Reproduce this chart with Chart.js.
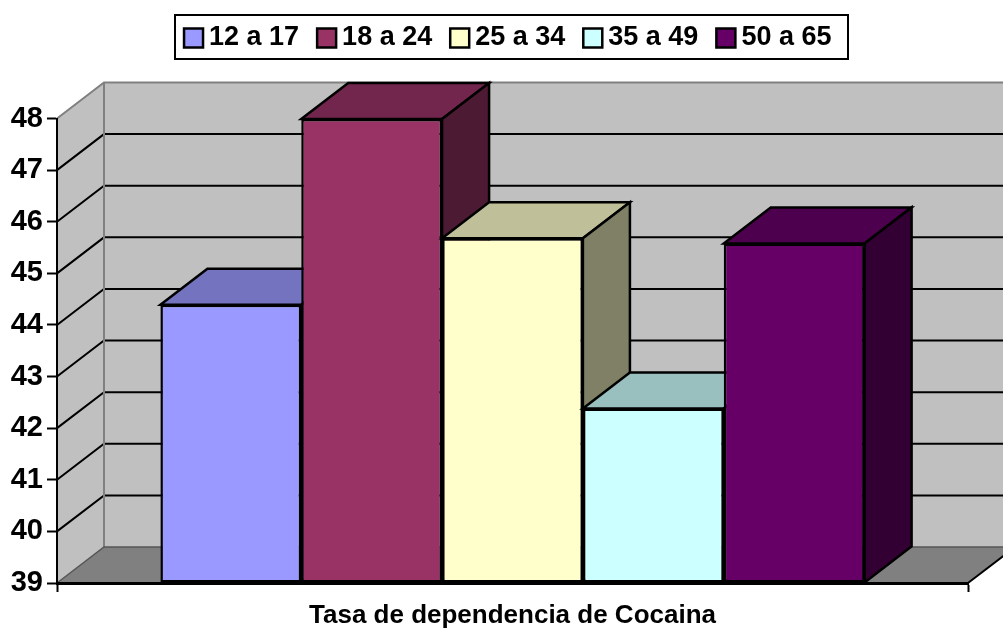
<!DOCTYPE html>
<html><head><meta charset="utf-8">
<style>html,body{margin:0;padding:0;background:#fff}canvas{display:block}</style>
<script src="https://cdn.jsdelivr.net/npm/chart.js@4/dist/chart.umd.js"></script>
</head><body><canvas id="c" width="1003" height="628"></canvas>
<script>
const categories = ['Tasa de dependencia de Cocaina'];
const seriesNames = ['12 a 17','18 a 24','25 a 34','35 a 49','50 a 65'];
const seriesValues = [44.39, 47.99, 45.68, 42.38, 45.58];
const seriesColors = ['#9999FF','#993366','#FFFFCC','#CCFFFF','#660066'];
const yMin = 39, yMax = 48;
const FONT = '"Liberation Sans", Arial, sans-serif';
const DX = 47, DY = 36;

function shade(hex, k){
  const n = parseInt(hex.slice(1),16);
  return 'rgb('+[(n>>16)&255,(n>>8)&255,n&255].map(v=>Math.round(v*k)).join(',')+')';
}
function poly(ctx, pts, fill, stroke, lw){
  ctx.beginPath();
  pts.forEach((p,i)=> i?ctx.lineTo(p[0],p[1]):ctx.moveTo(p[0],p[1]));
  ctx.closePath();
  if(fill){ctx.fillStyle=fill;ctx.fill();}
  if(stroke){ctx.strokeStyle=stroke;ctx.lineWidth=lw;ctx.lineJoin='miter';ctx.stroke();}
}
const walls = {
  id:'walls',
  afterLayout(chart){
    const lg = chart.legend, w = lg.right-lg.left, cx = 511.5;
    lg.left = cx-w/2; lg.right = cx+w/2;
    lg.top = -1; lg.bottom = lg.top+lg.height;
  },
  beforeDraw(chart){
    const {ctx, chartArea:a, scales:{y}} = chart;
    const L=a.left,R=a.right,T=y.getPixelForValue(yMax),B=y.getPixelForValue(yMin);
    ctx.save();
    poly(ctx,[[L+DX,T-DY],[R+DX,T-DY],[R+DX,B-DY],[L+DX,B-DY]],'#C0C0C0');
    poly(ctx,[[L,B],[L+DX,B-DY],[L+DX,T-DY],[L,T]],'#C0C0C0');
    poly(ctx,[[L,B],[L+DX,B-DY],[R+DX,B-DY],[R,B]],'#808080');
    ctx.strokeStyle='#000';ctx.lineWidth=2;
    for(let v=yMin+1;v<yMax;v++){
      const p=y.getPixelForValue(v);
      ctx.beginPath();ctx.moveTo(L,p);ctx.lineTo(L+DX,p-DY);ctx.lineTo(R+DX,p-DY);ctx.stroke();
    }
    ctx.strokeStyle='#808080';ctx.lineWidth=2;
    ctx.beginPath();ctx.moveTo(L,T);ctx.lineTo(L+DX,T-DY);ctx.lineTo(R+DX,T-DY);ctx.stroke();
    ctx.beginPath();ctx.moveTo(L+DX,T-DY);ctx.lineTo(L+DX,B-DY);ctx.stroke();
    ctx.strokeStyle='#555';ctx.lineWidth=1.5;
    ctx.beginPath();ctx.moveTo(L,B);ctx.lineTo(L+DX,B-DY);ctx.lineTo(R+DX,B-DY);ctx.stroke();
    ctx.strokeStyle='#000';ctx.lineWidth=2;
    ctx.beginPath();ctx.moveTo(R,B);ctx.lineTo(R+DX,B-DY);ctx.stroke();
    ctx.strokeStyle='#000';ctx.lineWidth=2;ctx.fillStyle='#fff';
    ctx.fillRect(175,15,673,44);ctx.strokeRect(175,15,673,44);
    ctx.restore();
  },
  beforeDatasetDraw(){ return false; },
  afterDatasetsDraw(chart){
    const ctx = chart.ctx;
    ctx.save();
    chart.getSortedVisibleDatasetMetas().forEach(meta=>{
      const el = meta.data[0], col = seriesColors[meta.index];
      const l=el.x-el.width/2, r=el.x+el.width/2, t=el.y, b=el.base;
      poly(ctx,[[l,t],[l+DX,t-DY],[r+DX,t-DY],[r,t]],shade(col,0.75),'#000',2.5);
      poly(ctx,[[r,t],[r+DX,t-DY],[r+DX,b-DY],[r,b]],shade(col,0.5),'#000',2.5);
      el.draw(ctx);
    });
    ctx.restore();
  }
};
new Chart(document.getElementById('c'),{
  type:'bar',
  data:{labels:categories,datasets:seriesNames.map((n,i)=>({
    label:n,data:[seriesValues[i]],base:yMin,backgroundColor:seriesColors[i],
    borderColor:'#000',borderWidth:2.5,borderSkipped:false,
    barPercentage:1,categoryPercentage:0.773
  }))},
  options:{
    responsive:false,animation:false,
    layout:{padding:{left:0,right:35,top:56,bottom:0}},
    plugins:{
      tooltip:{enabled:false},
      title:{display:false},
      legend:{display:true,position:'top',
        labels:{usePointStyle:true,pointStyle:'rect',boxWidth:4,boxHeight:19,
          padding:25.5,color:'#000',font:{family:FONT,size:27,weight:'bold'},
          generateLabels(chart){return chart.data.datasets.map((d,i)=>({
            text:d.label,fillStyle:d.backgroundColor,strokeStyle:'#000',lineWidth:2.5,
            pointStyle:'rect',datasetIndex:i,hidden:false}));}
        }}
    },
    scales:{
      x:{
        afterFit(s){s.height=45;},
        grid:{display:true,offset:true,drawOnChartArea:false,color:'#000',tickColor:'#000',tickLength:9,tickWidth:2},
        border:{display:true,color:'#000',width:3},
        ticks:{color:'#000',padding:8,maxRotation:0,font:{family:FONT,size:26,weight:'bold'}}
      },
      y:{
        min:yMin,max:yMax,
        afterFit(s){s.width=57;},
        grid:{display:true,drawOnChartArea:false,color:'#000',tickColor:'#000',tickLength:10,tickWidth:2},
        border:{display:true,color:'#000',width:2},
        ticks:{color:'#000',stepSize:1,padding:4,font:{family:FONT,size:29,weight:'bold'}}
      }
    }
  },
  plugins:[walls]
});
</script></body></html>
